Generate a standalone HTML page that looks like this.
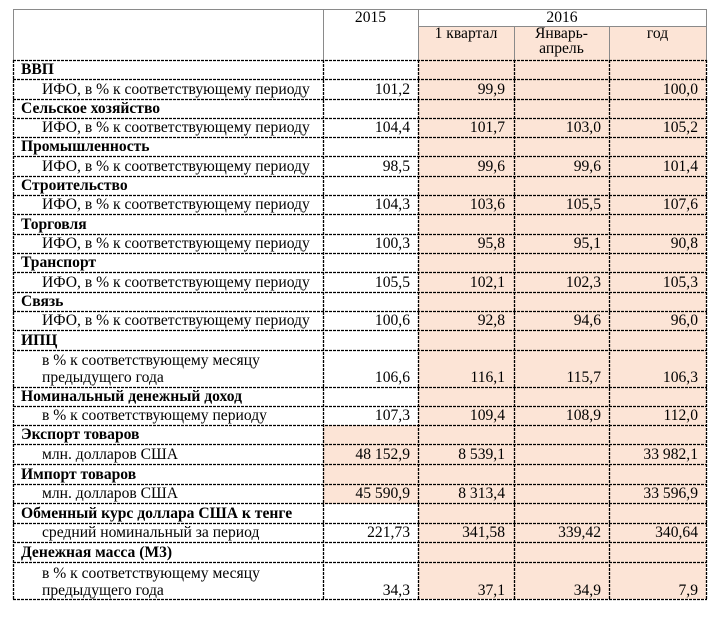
<!DOCTYPE html>
<html><head><meta charset="utf-8">
<style>
html,body{margin:0;padding:0;background:#fff;}
#w{position:relative;width:720px;height:622px;overflow:hidden;font-family:"Liberation Serif","DejaVu Serif",serif;font-size:15.6px;color:#000;}
.bg{position:absolute;background:#fce4d6;}
.r{position:absolute;left:0;width:720px;height:19.4px;line-height:19.4px;white-space:nowrap;}
.d{position:absolute;left:0;width:720px;height:36px;line-height:17px;white-space:nowrap;}
.b{position:absolute;left:21px;font-weight:bold;}
.l{position:absolute;left:42px;}
.d .l{top:1.5px;}
.n{position:absolute;text-align:right;}
.d .n{top:18.5px;}
.c0{left:313px;width:97px;}
.c1{left:418px;width:87px;}
.c2{left:514px;width:87px;}
.c3{left:609px;width:89px;}
.h{position:absolute;text-align:center;line-height:15px;}
svg{position:absolute;left:0;top:0;}
</style></head><body>
<div id="w">
<div class="bg" style="left:418px;top:26px;width:288px;height:573px;"></div>
<div class="bg" style="left:323px;top:425px;width:95px;height:79px;"></div>

<div class="h" style="left:323px;top:8.5px;width:95px;line-height:17px;">2015</div>
<div class="h" style="left:418px;top:8.5px;width:288px;line-height:17px;">2016</div>
<div class="h" style="left:418px;top:26.4px;width:96px;">1 квартал</div>
<div class="h" style="left:514px;top:26.4px;width:95px;">Январь-<br>апрель</div>
<div class="h" style="left:609px;top:26.4px;width:97px;">год</div>

<div class="r" style="top:60px"><span class="b">ВВП</span></div>
<div class="r" style="top:79.5px"><span class="l">ИФО, в % к соответствующему периоду</span><span class="n c0">101,2</span><span class="n c1">99,9</span><span class="n c3">100,0</span></div>
<div class="r" style="top:99px"><span class="b">Сельское хозяйство</span></div>
<div class="r" style="top:118px"><span class="l">ИФО, в % к соответствующему периоду</span><span class="n c0">104,4</span><span class="n c1">101,7</span><span class="n c2">103,0</span><span class="n c3">105,2</span></div>
<div class="r" style="top:137px"><span class="b">Промышленность</span></div>
<div class="r" style="top:157px"><span class="l">ИФО, в % к соответствующему периоду</span><span class="n c0">98,5</span><span class="n c1">99,6</span><span class="n c2">99,6</span><span class="n c3">101,4</span></div>
<div class="r" style="top:176px"><span class="b">Строительство</span></div>
<div class="r" style="top:195px"><span class="l">ИФО, в % к соответствующему периоду</span><span class="n c0">104,3</span><span class="n c1">103,6</span><span class="n c2">105,5</span><span class="n c3">107,6</span></div>
<div class="r" style="top:215px"><span class="b">Торговля</span></div>
<div class="r" style="top:234px"><span class="l">ИФО, в % к соответствующему периоду</span><span class="n c0">100,3</span><span class="n c1">95,8</span><span class="n c2">95,1</span><span class="n c3">90,8</span></div>
<div class="r" style="top:253px"><span class="b">Транспорт</span></div>
<div class="r" style="top:273px"><span class="l">ИФО, в % к соответствующему периоду</span><span class="n c0">105,5</span><span class="n c1">102,1</span><span class="n c2">102,3</span><span class="n c3">105,3</span></div>
<div class="r" style="top:292px"><span class="b">Связь</span></div>
<div class="r" style="top:311px"><span class="l">ИФО, в % к соответствующему периоду</span><span class="n c0">100,6</span><span class="n c1">92,8</span><span class="n c2">94,6</span><span class="n c3">96,0</span></div>
<div class="r" style="top:331px"><span class="b">ИПЦ</span></div>
<div class="d" style="top:350px"><span class="l">в % к соответствующему месяцу<br>предыдущего года</span><span class="n c0">106,6</span><span class="n c1">116,1</span><span class="n c2">115,7</span><span class="n c3">106,3</span></div>
<div class="r" style="top:387px"><span class="b">Номинальный денежный доход</span></div>
<div class="r" style="top:406px"><span class="l">в % к соответствующему периоду</span><span class="n c0">107,3</span><span class="n c1">109,4</span><span class="n c2">108,9</span><span class="n c3">112,0</span></div>
<div class="r" style="top:425px"><span class="b">Экспорт товаров</span></div>
<div class="r" style="top:445px"><span class="l">млн. долларов США</span><span class="n c0">48 152,9</span><span class="n c1">8 539,1</span><span class="n c3">33 982,1</span></div>
<div class="r" style="top:465px"><span class="b">Импорт товаров</span></div>
<div class="r" style="top:484px"><span class="l">млн. долларов США</span><span class="n c0">45 590,9</span><span class="n c1">8 313,4</span><span class="n c3">33 596,9</span></div>
<div class="r" style="top:504px"><span class="b">Обменный курс доллара США к тенге</span></div>
<div class="r" style="top:523px"><span class="l">средний номинальный за период</span><span class="n c0">221,73</span><span class="n c1">341,58</span><span class="n c2">339,42</span><span class="n c3">340,64</span></div>
<div class="r" style="top:543px"><span class="b">Денежная масса (М3)</span></div>
<div class="d" style="top:563px"><span class="l">в % к соответствующему месяцу<br>предыдущего года</span><span class="n c0">34,3</span><span class="n c1">37,1</span><span class="n c2">34,9</span><span class="n c3">7,9</span></div>

<svg width="720" height="622" viewBox="0 0 720 622">
<g stroke="#8a8a8a" stroke-width="1" fill="none">
<line x1="13" y1="9.5" x2="706.5" y2="9.5"/>
<line x1="418" y1="26.5" x2="706.5" y2="26.5"/>
<line x1="13.5" y1="9" x2="13.5" y2="60"/>
<line x1="323.5" y1="9" x2="323.5" y2="60"/>
<line x1="418.5" y1="9" x2="418.5" y2="60"/>
<line x1="514.5" y1="26" x2="514.5" y2="60"/>
<line x1="609.5" y1="26" x2="609.5" y2="60"/>
<line x1="706.5" y1="9" x2="706.5" y2="60"/>
</g>
<g stroke="#000" stroke-width="1.3" fill="none" stroke-dasharray="3 1">
<line x1="13" y1="60.5" x2="707" y2="60.5"/>
<line x1="13" y1="79.5" x2="707" y2="79.5"/>
<line x1="13" y1="99.5" x2="707" y2="99.5"/>
<line x1="13" y1="118.5" x2="707" y2="118.5"/>
<line x1="13" y1="137.5" x2="707" y2="137.5"/>
<line x1="13" y1="156.5" x2="707" y2="156.5"/>
<line x1="13" y1="176.5" x2="707" y2="176.5"/>
<line x1="13" y1="195.5" x2="707" y2="195.5"/>
<line x1="13" y1="214.5" x2="707" y2="214.5"/>
<line x1="13" y1="234.5" x2="707" y2="234.5"/>
<line x1="13" y1="253.5" x2="707" y2="253.5"/>
<line x1="13" y1="272.5" x2="707" y2="272.5"/>
<line x1="13" y1="292.5" x2="707" y2="292.5"/>
<line x1="13" y1="311.5" x2="707" y2="311.5"/>
<line x1="13" y1="330.5" x2="707" y2="330.5"/>
<line x1="13" y1="350.5" x2="707" y2="350.5"/>
<line x1="13" y1="387.5" x2="707" y2="387.5"/>
<line x1="13" y1="406.5" x2="707" y2="406.5"/>
<line x1="13" y1="425.5" x2="707" y2="425.5"/>
<line x1="13" y1="444.5" x2="707" y2="444.5"/>
<line x1="13" y1="464.5" x2="707" y2="464.5"/>
<line x1="13" y1="484.5" x2="707" y2="484.5"/>
<line x1="13" y1="503.5" x2="707" y2="503.5"/>
<line x1="13" y1="523.5" x2="707" y2="523.5"/>
<line x1="13" y1="542.5" x2="707" y2="542.5"/>
<line x1="13" y1="562.5" x2="707" y2="562.5"/>
<line x1="13" y1="599.5" x2="707" y2="599.5"/>
<line x1="13.5" y1="60" x2="13.5" y2="600"/>
<line x1="323.5" y1="60" x2="323.5" y2="600"/>
<line x1="418.5" y1="60" x2="418.5" y2="600"/>
<line x1="514.5" y1="60" x2="514.5" y2="600"/>
<line x1="609.5" y1="60" x2="609.5" y2="600"/>
<line x1="706.5" y1="60" x2="706.5" y2="600"/>
</g>
</svg>
</div>
</body></html>
